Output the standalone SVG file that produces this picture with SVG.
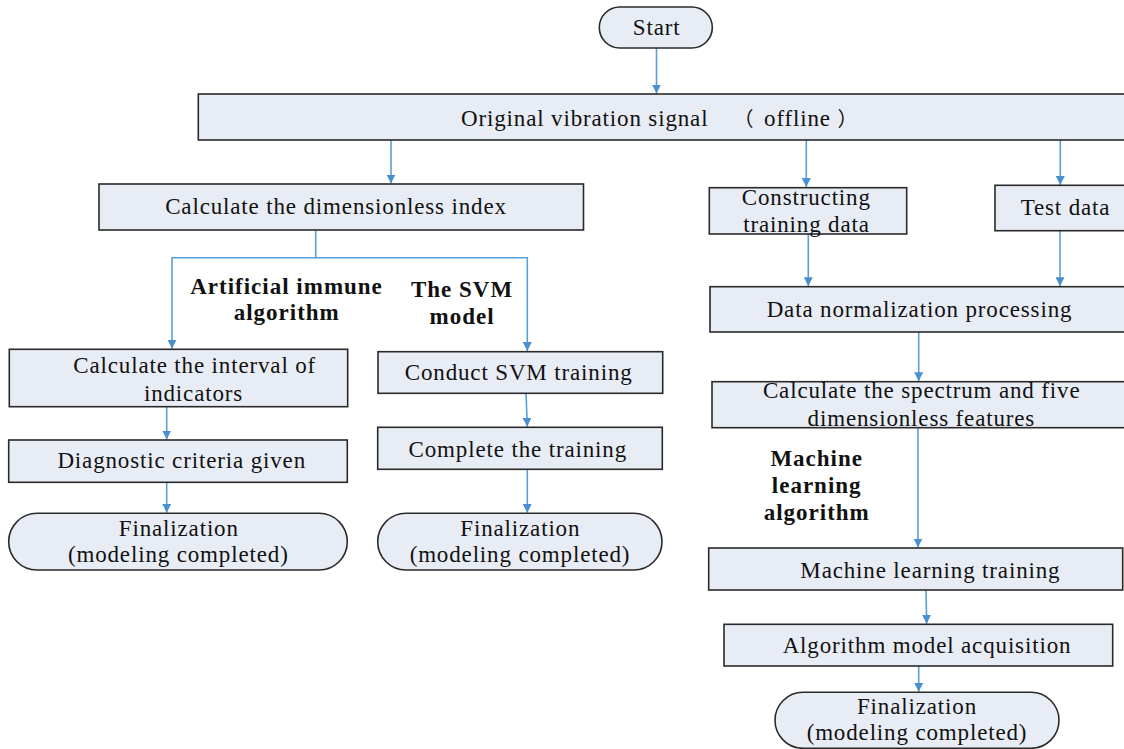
<svg xmlns="http://www.w3.org/2000/svg" width="1124" height="749" viewBox="0 0 1124 749">
<style>
.box{fill:#e8ecf5;stroke:#2a2a2a;stroke-width:1.6}
.t{font-family:"Liberation Serif","Times New Roman",serif;font-size:23px;letter-spacing:0.85px;fill:#111;text-anchor:middle}
.b{font-family:"Liberation Serif","Times New Roman",serif;font-size:23px;font-weight:bold;letter-spacing:1px;fill:#111;text-anchor:middle}
.c{fill:none;stroke:#5b9fd6;stroke-width:1.6}
</style>
<defs>
<marker id="ah" viewBox="0 0 10 10" refX="10" refY="5" markerWidth="9" markerHeight="9" markerUnits="userSpaceOnUse" orient="auto">
<path d="M0,0 L10,5 L0,10 z" fill="#4a90d0"/>
</marker>
</defs>
<rect width="1124" height="749" fill="#fff"/>
<g id="connectors">
<path class="c" d="M656.5,48 V93.5" marker-end="url(#ah)"/>
<path class="c" d="M391,140 V183.5" marker-end="url(#ah)"/>
<path class="c" d="M806.3,140 V187" marker-end="url(#ah)"/>
<path class="c" d="M1060.3,140 V185" marker-end="url(#ah)"/>
<path class="c" d="M315.7,230 V257.7 H172 V348.8" marker-end="url(#ah)"/>
<path class="c" d="M315.7,257.7 H527.3 V351" marker-end="url(#ah)"/>
<path class="c" d="M166.7,406.7 V439.5" marker-end="url(#ah)"/>
<path class="c" d="M166.7,482.3 V512.8" marker-end="url(#ah)"/>
<path class="c" d="M526,393.3 L527.3,426.8" marker-end="url(#ah)"/>
<path class="c" d="M527.3,469.3 V512.8" marker-end="url(#ah)"/>
<path class="c" d="M808.3,234 V286.2" marker-end="url(#ah)"/>
<path class="c" d="M1060,230.7 V286.2" marker-end="url(#ah)"/>
<path class="c" d="M918.7,332 V381.2" marker-end="url(#ah)"/>
<path class="c" d="M918,427.7 V547.5" marker-end="url(#ah)"/>
<path class="c" d="M926,590 L926.7,623.8" marker-end="url(#ah)"/>
<path class="c" d="M918.7,666 V691.8" marker-end="url(#ah)"/>
</g>
<g id="start">
<rect class="box" x="599.3" y="7" width="113" height="41" rx="20.5"/>
<text class="t" x="656.7" y="35">Start</text>
</g>
<g id="original">
<rect class="box" x="198.3" y="94" width="940" height="46"/>
<text class="t" x="461" y="126" text-anchor="start" style="text-anchor:start">Original vibration signal</text>
<text class="t" x="744" y="126" style="font-family:'Noto Sans CJK SC','Liberation Serif',sans-serif;font-size:20px">（</text>
<text class="t" x="797.5" y="126">offline</text>
<text class="t" x="848" y="126" style="font-family:'Noto Sans CJK SC','Liberation Serif',sans-serif;font-size:20px">）</text>
</g>
<g id="calc-dimensionless">
<rect class="box" x="99" y="184" width="484.5" height="46"/>
<text class="t" x="336" y="214">Calculate the dimensionless index</text>
</g>
<g id="constructing">
<rect class="box" x="709.3" y="187.7" width="197.4" height="46.3"/>
<text class="t" x="806.3" y="205">Constructing</text>
<text class="t" x="806.5" y="231.7">training data</text>
</g>
<g id="test-data">
<rect class="box" x="995" y="185.3" width="140" height="45.4"/>
<text class="t" x="1065.5" y="215">Test data</text>
</g>
<g id="label-immune">
<text class="b" x="286.5" y="294.3">Artificial immune</text>
<text class="b" x="286.7" y="320">algorithm</text>
</g>
<g id="label-svm">
<text class="b" x="462" y="297.3">The SVM</text>
<text class="b" x="462" y="324.3">model</text>
</g>
<g id="calc-interval">
<rect class="box" x="9.3" y="349.3" width="338.4" height="57.4"/>
<text class="t" x="194.7" y="372.7">Calculate the interval of</text>
<text class="t" x="193.5" y="400.7">indicators</text>
</g>
<g id="diagnostic">
<rect class="box" x="8.7" y="440" width="338.6" height="42.3"/>
<text class="t" x="181.7" y="468.3">Diagnostic criteria given</text>
</g>
<g id="final-left">
<rect class="box" x="8.7" y="513.3" width="338.6" height="56.7" rx="28.3"/>
<text class="t" x="178.8" y="536">Finalization</text>
<text class="t" x="178.3" y="561.7">(modeling completed)</text>
</g>
<g id="conduct-svm">
<rect class="box" x="378" y="351.7" width="284.7" height="41.6"/>
<text class="t" x="518.7" y="380">Conduct SVM training</text>
</g>
<g id="complete-training">
<rect class="box" x="377.7" y="427.3" width="284.6" height="42"/>
<text class="t" x="517.8" y="456.7">Complete the training</text>
</g>
<g id="final-mid">
<rect class="box" x="377.7" y="513.3" width="284.3" height="56.7" rx="28.3"/>
<text class="t" x="520.3" y="536">Finalization</text>
<text class="t" x="520" y="561.7">(modeling completed)</text>
</g>
<g id="data-normalization">
<rect class="box" x="710" y="286.7" width="430" height="45.3"/>
<text class="t" x="919.5" y="316.5">Data normalization processing</text>
</g>
<g id="calc-spectrum">
<rect class="box" x="712" y="381.7" width="428" height="46"/>
<text class="t" x="921.7" y="398.3">Calculate the spectrum and five</text>
<text class="t" x="921.4" y="425.7">dimensionless features</text>
</g>
<g id="label-ml">
<text class="b" x="816.7" y="465.7">Machine</text>
<text class="b" x="816.7" y="493">learning</text>
<text class="b" x="816.7" y="520">algorithm</text>
</g>
<g id="ml-training">
<rect class="box" x="708.7" y="548" width="414" height="42"/>
<text class="t" x="930.4" y="578.3">Machine learning training</text>
</g>
<g id="algorithm-model">
<rect class="box" x="724" y="624.3" width="388.7" height="41.7"/>
<text class="t" x="927" y="653.3">Algorithm model acquisition</text>
</g>
<g id="final-right">
<rect class="box" x="775" y="692.3" width="284" height="56" rx="28"/>
<text class="t" x="917" y="714">Finalization</text>
<text class="t" x="917" y="740">(modeling completed)</text>
</g>
</svg>
